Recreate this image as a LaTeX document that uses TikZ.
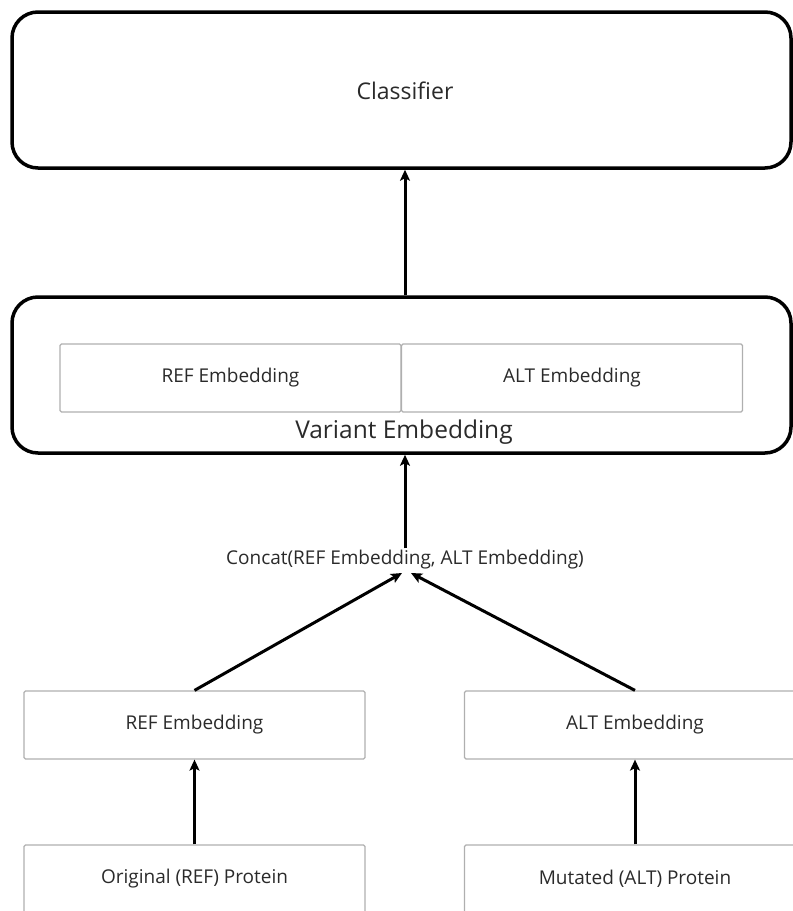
\documentclass[tikz,border=0pt]{standalone}
\usepackage{fontspec}
\setmainfont{Open Sans}
\usetikzlibrary{arrows.meta}
\definecolor{txt}{HTML}{2A2A2A}
\definecolor{thin}{HTML}{AFAFAF}
\tikzset{
  bigbox/.style={draw=black, line width=3.5pt, rounded corners=26pt, minimum width=779pt, inner sep=0pt, text=txt},
  smallbox/.style={draw=thin, line width=1.2pt, rounded corners=1.5pt, minimum width=341pt, minimum height=68pt, inner sep=0pt, text=txt, font=\fontsize{19}{22}\selectfont},
  conn/.style={line width=3pt, -{Stealth[length=11pt,width=10pt,inset=2.5pt]}},
}
\begin{document}
\begin{tikzpicture}[x=1pt,y=-1pt]
\useasboundingbox (0,0) rectangle (793,911);
\clip (0,0) rectangle (793,911);
% top level
\node[bigbox, minimum height=156pt] (cls) at (401.5,90) {};
\node[text=txt, font=\fontsize{23}{26}\selectfont, inner sep=0pt] (clslbl) at (405,91) {Classifier};
\node[bigbox, minimum height=156pt] (var) at (401.5,375) {};
\node[smallbox] (refin) at (230.5,378) {REF Embedding};
\node[smallbox] (altin) at (572,378) {ALT Embedding};
\node[text=txt, font=\fontsize{24.5}{28}\selectfont, inner sep=0pt] (varlbl) at (404,432) {Variant Embedding};
% concat
\node[text=txt, font=\fontsize{19}{22}\selectfont, inner sep=2pt] (concat) at (405,560) {Concat(REF Embedding, ALT Embedding)};
\coordinate (cl) at (402,573);
\coordinate (cr) at (411,573);
% lower boxes
\node[smallbox] (refemb) at (194.5,725) {REF Embedding};
\node[smallbox] (altemb) at (635,725) {ALT Embedding};
\node[smallbox] (orig) at (194.5,879) {Original (REF) Protein};
\node[smallbox] (mut) at (635,879) {Mutated (ALT) Protein};
% connectors
\draw[conn] (concat.north |- var.north) -- (concat.north |- cls.south);
\draw[conn] (concat.north) -- (concat.north |- var.south);
\draw[conn] (refemb.north) -- (cl);
\draw[conn] (altemb.north) -- (cr);
\draw[conn] (orig.north) -- (refemb.south);
\draw[conn] (mut.north) -- (altemb.south);
\end{tikzpicture}
\end{document}
